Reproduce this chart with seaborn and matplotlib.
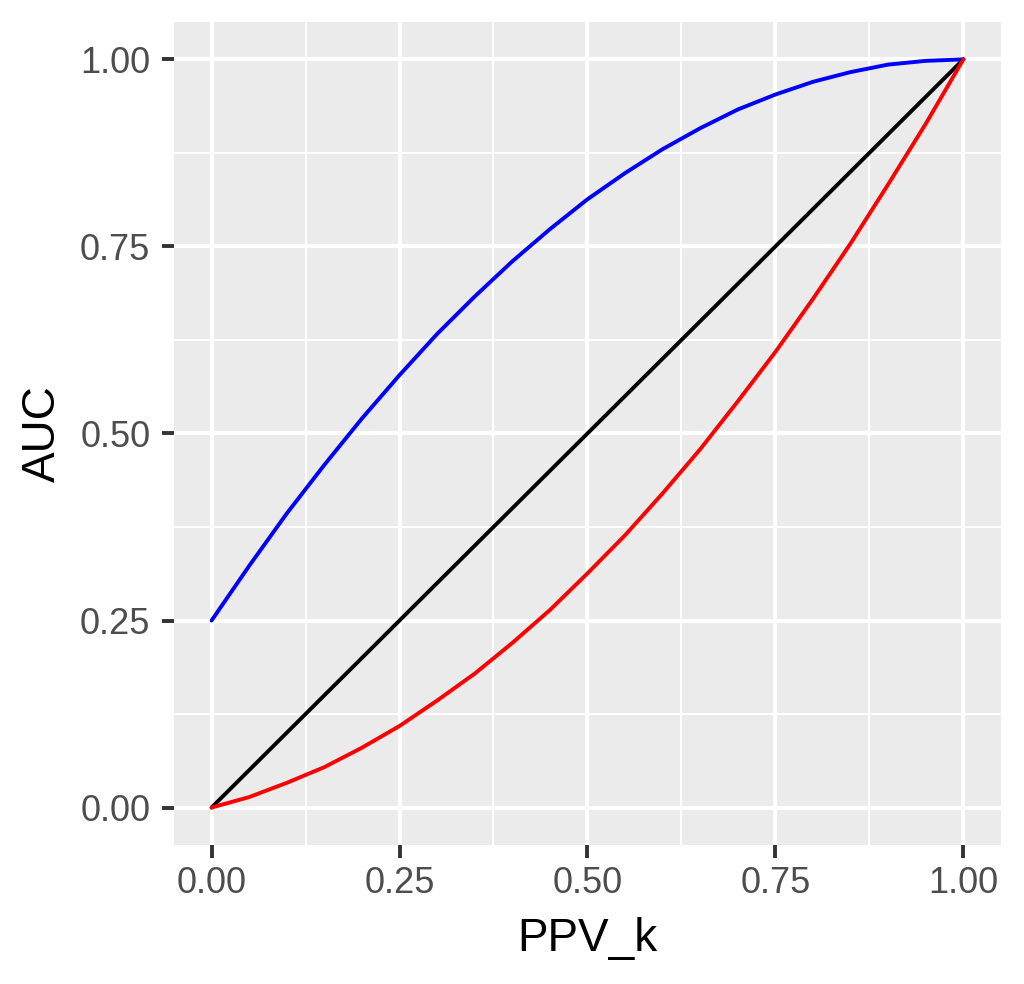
import pandas as pd
import matplotlib
import seaborn as sns
import matplotlib.pyplot as plt
from matplotlib.ticker import MultipleLocator, FormatStrFormatter

matplotlib.use("Agg")

# values at PPV_k steps of 0.05
ppv_k = [0.00, 0.05, 0.10, 0.15, 0.20, 0.25, 0.30, 0.35, 0.40, 0.45, 0.50,
         0.55, 0.60, 0.65, 0.70, 0.75, 0.80, 0.85, 0.90, 0.95, 1.00]
auc_upper = [0.250, 0.323, 0.393, 0.458, 0.520, 0.578, 0.633, 0.683, 0.730, 0.773, 0.813,
             0.848, 0.880, 0.908, 0.933, 0.953, 0.970, 0.983, 0.993, 0.998, 1.000]
auc_diag = [0.00, 0.05, 0.10, 0.15, 0.20, 0.25, 0.30, 0.35, 0.40, 0.45, 0.50,
            0.55, 0.60, 0.65, 0.70, 0.75, 0.80, 0.85, 0.90, 0.95, 1.00]
auc_lower = [0.000, 0.014, 0.033, 0.054, 0.080, 0.109, 0.143, 0.179, 0.220, 0.264, 0.313,
             0.364, 0.420, 0.479, 0.543, 0.609, 0.680, 0.754, 0.833, 0.914, 1.000]

df = pd.concat([
    pd.DataFrame({"PPV_k": ppv_k, "AUC": auc_upper, "curve": "upper"}),
    pd.DataFrame({"PPV_k": ppv_k, "AUC": auc_diag, "curve": "diag"}),
    pd.DataFrame({"PPV_k": ppv_k, "AUC": auc_lower, "curve": "lower"}),
], ignore_index=True)

sns.set_theme(style="darkgrid")
plt.rcParams["font.family"] = ["Liberation Sans", "DejaVu Sans"]

fig = plt.figure(figsize=(10.24, 9.84), dpi=100)
ax = fig.add_axes([0.1699, 0.1413, 0.8076, 0.8364])
ax.set_facecolor("#EBEBEB")

sns.lineplot(data=df, x="PPV_k", y="AUC", hue="curve",
             palette={"upper": "#0000FF", "diag": "#000000", "lower": "#FF0000"},
             legend=False, ax=ax)
for ln in ax.lines:
    ln.set_linewidth(2.8)
    ln.set_solid_joinstyle("round")

ax.set_xlim(-0.05, 1.05)
ax.set_ylim(-0.05, 1.05)
ax.xaxis.set_major_locator(MultipleLocator(0.25))
ax.yaxis.set_major_locator(MultipleLocator(0.25))
ax.xaxis.set_minor_locator(MultipleLocator(0.125))
ax.yaxis.set_minor_locator(MultipleLocator(0.125))
ax.xaxis.set_major_formatter(FormatStrFormatter("%.2f"))
ax.yaxis.set_major_formatter(FormatStrFormatter("%.2f"))

ax.grid(which="major", color="white", linewidth=3.0)
ax.grid(which="minor", color="white", linewidth=1.5)
ax.set_axisbelow(True)
for s in ax.spines.values():
    s.set_visible(False)

ax.tick_params(axis="both", which="major", length=9, width=2.8, color="#333333",
               labelsize=26, labelcolor="#4D4D4D", direction="out",
               bottom=True, left=True)
ax.tick_params(axis="both", which="minor", length=0, bottom=False, left=False)
ax.tick_params(axis="y", pad=8)
ax.tick_params(axis="x", pad=6)

ax.set_xlabel("PPV_k", fontsize=33, color="black", labelpad=12)
ax.set_ylabel("AUC", fontsize=33, color="black", labelpad=11)

fig.savefig("out.png", dpi=100)
